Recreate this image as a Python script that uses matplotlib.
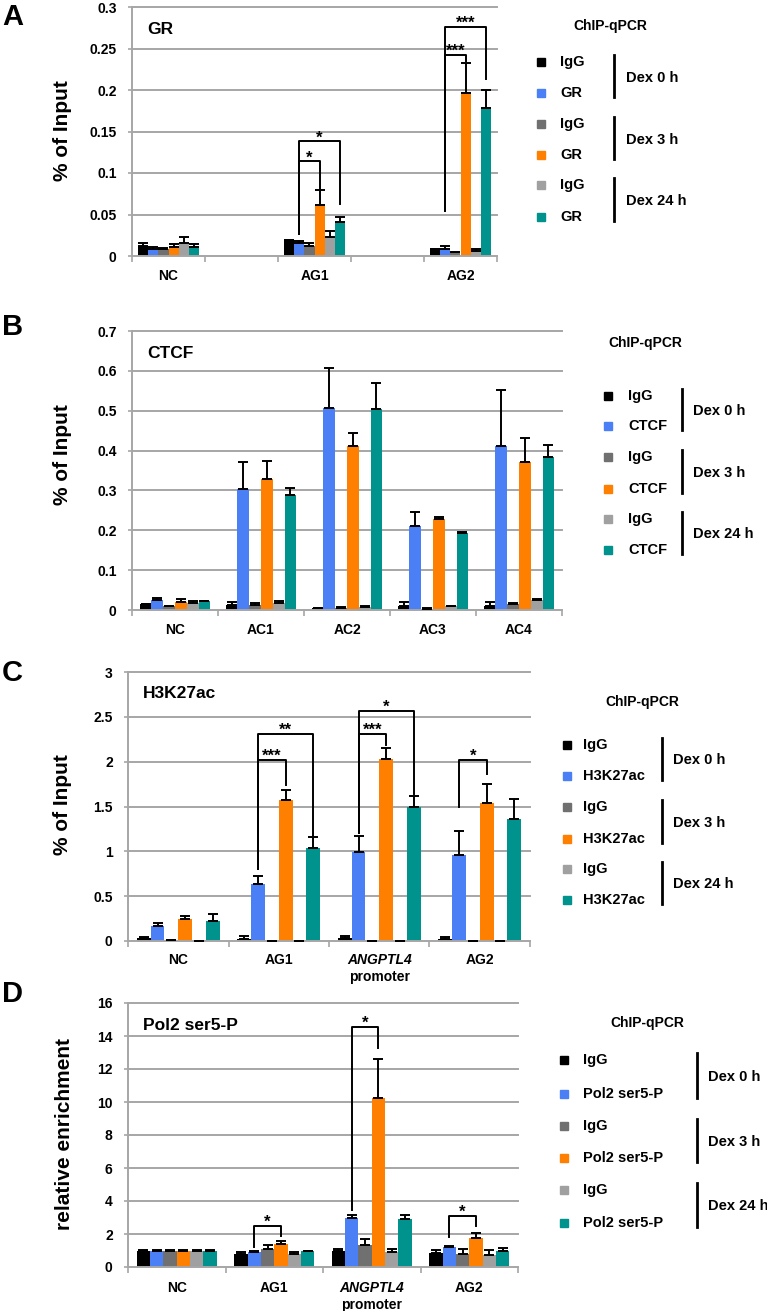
import numpy as np
import matplotlib
matplotlib.use("Agg")
import matplotlib.pyplot as plt
from matplotlib.patches import Rectangle
from matplotlib.lines import Line2D

plt.rcParams['font.family'] = ['Liberation Sans', 'DejaVu Sans']
plt.rcParams['font.weight'] = 'bold'

W, H = 767, 1311
colors = ['#000000', '#4a7ff5', '#707070', '#ff7f00', '#a0a0a0', '#00928d']
dex_labels = ['Dex 0 h', 'Dex 3 h', 'Dex 24 h']

# ---- panel A: GR (blank slots between groups) ----
a_slots = 5
a_pos = [0, 2, 4]
a_groups = ['NC', 'AG1', 'AG2']
a_vals = [[0.012, 0.0085, 0.009, 0.0105, 0.016, 0.011],
          [0.019, 0.016, 0.012, 0.062, 0.023, 0.0415],
          [0.009, 0.008, 0.005, 0.1965, 0.006, 0.178]]
a_err = [[0.004, 0.0025, 0.001, 0.0045, 0.007, 0.0035],
         [0.0, 0.002, 0.004, 0.018, 0.007, 0.0055],
         [0.0, 0.004, 0.0, 0.0365, 0.0025, 0.022]]
a_sig = [(1, 1, 3, 0.027, 0.114, 0.081, '*'), (1, 1, 5, 0.027, 0.138, 0.063, '*'),
         (2, 1, 3, 0.054, 0.2425, 0.235, '***'), (2, 1, 5, 0.054, 0.276, 0.213, '***')]

# ---- panel B: CTCF ----
b_groups = ['NC', 'AC1', 'AC2', 'AC3', 'AC4']
b_vals = [[0.014, 0.025, 0.010, 0.020, 0.018, 0.022],
          [0.012, 0.303, 0.013, 0.329, 0.017, 0.288],
          [0.005, 0.506, 0.006, 0.411, 0.008, 0.504],
          [0.011, 0.211, 0.003, 0.228, 0.010, 0.194],
          [0.010, 0.411, 0.014, 0.371, 0.025, 0.384]]
b_err = [[0.001, 0.004, 0.001, 0.007, 0.004, 0.001],
         [0.008, 0.068, 0.004, 0.046, 0.006, 0.017],
         [0.001, 0.100, 0.001, 0.032, 0.001, 0.065],
         [0.009, 0.034, 0.001, 0.006, 0.001, 0.002],
         [0.010, 0.140, 0.003, 0.060, 0.002, 0.030]]

# ---- panel C: H3K27ac ----
c_groups = ['NC', 'AG1', 'ANGPTL4', 'AG2']
c_vals = [[0.03, 0.167, 0.01, 0.249, 0.005, 0.223],
          [0.025, 0.639, 0.005, 1.576, 0.005, 1.041],
          [0.03, 0.993, 0.005, 2.033, 0.005, 1.494],
          [0.025, 0.963, 0.005, 1.539, 0.005, 1.361]]
c_err = [[0.015, 0.033, 0.0, 0.031, 0.0, 0.074],
         [0.03, 0.081, 0.0, 0.104, 0.0, 0.115],
         [0.03, 0.182, 0.0, 0.123, 0.0, 0.119],
         [0.015, 0.264, 0.0, 0.216, 0.0, 0.219]]
c_sig = [(1, 1, 3, 0.807, 2.02, 1.74, '***'), (1, 1, 5, 0.807, 2.31, 1.16, '**'),
         (2, 1, 3, 1.2, 2.31, 2.19, '***'), (2, 1, 5, 1.2, 2.57, 1.64, '*'),
         (3, 1, 3, 1.49, 2.02, 1.86, '*')]

# ---- panel D: Pol2 ser5-P ----
d_groups = ['NC', 'AG1', 'ANGPTL4', 'AG2']
d_vals = [[1.0, 1.0, 1.0, 1.0, 1.0, 1.0],
          [0.81, 0.91, 1.07, 1.38, 0.77, 0.95],
          [0.95, 2.94, 1.36, 10.22, 0.89, 2.89],
          [0.85, 1.21, 0.81, 1.78, 0.75, 0.95]]
d_err = [[0.03, 0.03, 0.03, 0.03, 0.03, 0.03],
         [0.10, 0.09, 0.25, 0.20, 0.14, 0.05],
         [0.16, 0.20, 0.32, 2.41, 0.18, 0.29],
         [0.16, 0.04, 0.30, 0.28, 0.26, 0.20]]
d_sig = [(1, 1, 3, 1.21, 2.49, 1.86, '*'), (2, 1, 3, 3.44, 14.57, 13.26, '*'),
         (3, 1, 3, 1.82, 3.1, 2.47, '*')]

fig = plt.figure(figsize=(W / 100, H / 100), dpi=100)

def fx(x):
    return x / W

def fy(y):
    return 1 - y / H

bw = 0.137

def panel(box, pos, nslots, groups, vals, errs, ymax, ystep, title, ylabel, ylab_xy,
          label_y, sig=(), letter='', letter_y=0):
    l, t, r, b = box
    ax = fig.add_axes([fx(l), fy(b), fx(r - l), (b - t) / H])
    vals = np.array(vals)
    errs = np.array(errs)
    pos = np.array(pos, dtype=float)
    ticks = np.arange(0, ymax + ystep / 2, ystep)
    for yt in ticks[1:]:
        ax.axhline(yt, color='#a6a6a6', lw=1.4, zorder=0, clip_on=False)
    for i in range(6):
        x = pos + (i - 2.5) * bw
        ax.bar(x, vals[:, i], width=bw, color=colors[i], zorder=2)
        ax.errorbar(x, vals[:, i], yerr=[np.zeros(len(x)), errs[:, i]], fmt='none',
                    ecolor='black', elinewidth=1.4, capsize=3.5, capthick=1.4, zorder=3)
    ax.set_xlim(-0.5, nslots - 0.5)
    ax.set_ylim(0, ymax)
    ax.set_yticks(ticks)
    ax.set_yticklabels(['%g' % v for v in ticks], fontsize=10, fontweight='bold')
    ax.set_xticks(np.arange(-0.5, nslots, 1.0))
    ax.set_xticklabels([])
    ax.tick_params(axis='x', length=4, color='#a6a6a6', width=1.2)
    ax.tick_params(axis='y', length=3, color='#a6a6a6', width=1.2, pad=8)
    for s in ['top', 'right']:
        ax.spines[s].set_visible(False)
    for s in ['left', 'bottom']:
        ax.spines[s].set_color('#a6a6a6')
        ax.spines[s].set_linewidth(1.4)
    for p, g in zip(pos, groups):
        if g == 'ANGPTL4':
            ax.annotate(g, (p, 0), xycoords=('data', 'axes fraction'), xytext=(0, -label_y),
                        textcoords='offset pixels', ha='center', va='center', fontsize=10,
                        fontweight='bold', fontstyle='italic')
            ax.annotate('promoter', (p, 0), xycoords=('data', 'axes fraction'),
                        xytext=(0, -label_y - 17), textcoords='offset pixels',
                        ha='center', va='center', fontsize=10, fontweight='bold')
        else:
            ax.annotate(g, (p, 0), xycoords=('data', 'axes fraction'), xytext=(0, -label_y),
                        textcoords='offset pixels', ha='center', va='center', fontsize=10,
                        fontweight='bold')
    # significance brackets
    for gi, s0, s1, y0, ytop, y1, lab in sig:
        x0 = pos[gi] + (s0 - 2.5) * bw
        x1 = pos[gi] + (s1 - 2.5) * bw
        ax.plot([x0, x0, x1, x1], [y0, ytop, ytop, y1], color='black', lw=1.4, zorder=4)
        ax.annotate(lab, ((x0 + x1) / 2, ytop), xytext=(0, -1), textcoords='offset pixels',
                    ha='center', va='baseline', fontsize=12, fontweight='bold')
    fig.text(fx(l + 15), fy(t + 22), title, fontsize=12.5, fontweight='bold', va='center')
    fig.text(fx(ylab_xy[0]), fy(ylab_xy[1]), ylabel, rotation=90, fontsize=15,
             fontweight='bold', ha='center', va='center')
    fig.text(fx(2), fy(letter_y), letter, fontsize=21, fontweight='bold', va='center')
    return ax

def legend(title_xy, sq_x, txt_x, rows, vbar_x, dex_x, name):
    fig.text(fx(title_xy[0]), fy(title_xy[1]), 'ChIP-qPCR', fontsize=10, fontweight='bold',
             ha='center', va='center')
    for i, y in enumerate(rows):
        fig.add_artist(Rectangle((fx(sq_x - 4), fy(y + 4)), 8 / W, 8 / H,
                                 color=colors[i], transform=fig.transFigure))
        fig.text(fx(txt_x), fy(y), 'IgG' if i % 2 == 0 else name, fontsize=10.5,
                 fontweight='bold', va='center')
    for k in range(3):
        ya, yb = rows[2 * k], rows[2 * k + 1]
        fig.add_artist(Line2D([fx(vbar_x), fx(vbar_x)], [fy(ya - 7), fy(yb + 4)],
                              color='black', lw=2, transform=fig.transFigure))
        fig.text(fx(dex_x), fy((ya + yb) / 2), dex_labels[k], fontsize=10.5,
                 fontweight='bold', va='center')

panel((132, 7, 497, 256), a_pos, a_slots, a_groups, a_vals, a_err, 0.3, 0.05, 'GR',
      '% of Input', (63, 131), 20, a_sig, 'A', 17)
legend((610, 26), 541, 560, [62, 93, 124, 155, 185, 217], 614, 626, 'GR')

panel((132, 331, 562, 610), range(5), 5, b_groups, b_vals, b_err, 0.7, 0.1, 'CTCF',
      '% of Input', (62, 455), 20, (), 'B', 327)
legend((645, 343), 608, 628, [396, 426, 457, 489, 519, 550], 682, 693, 'CTCF')

panel((128, 672, 530, 941), range(4), 4, c_groups, c_vals, c_err, 3, 0.5, 'H3K27ac',
      '% of Input', (63, 805), 19, c_sig, 'C', 673)
legend((642, 702), 567, 583, [745, 776, 807, 839, 869, 900], 662, 673, 'H3K27ac')

panel((128, 1003, 518, 1267), range(4), 4, d_groups, d_vals, d_err, 16, 2, 'Pol2 ser5-P',
      'relative enrichment', (65, 1134), 21, d_sig, 'D', 994)
legend((647, 1023), 564, 583, [1060, 1094, 1126, 1158, 1190, 1223], 697, 708, 'Pol2 ser5-P')

fig.savefig('out.png', dpi=100)
